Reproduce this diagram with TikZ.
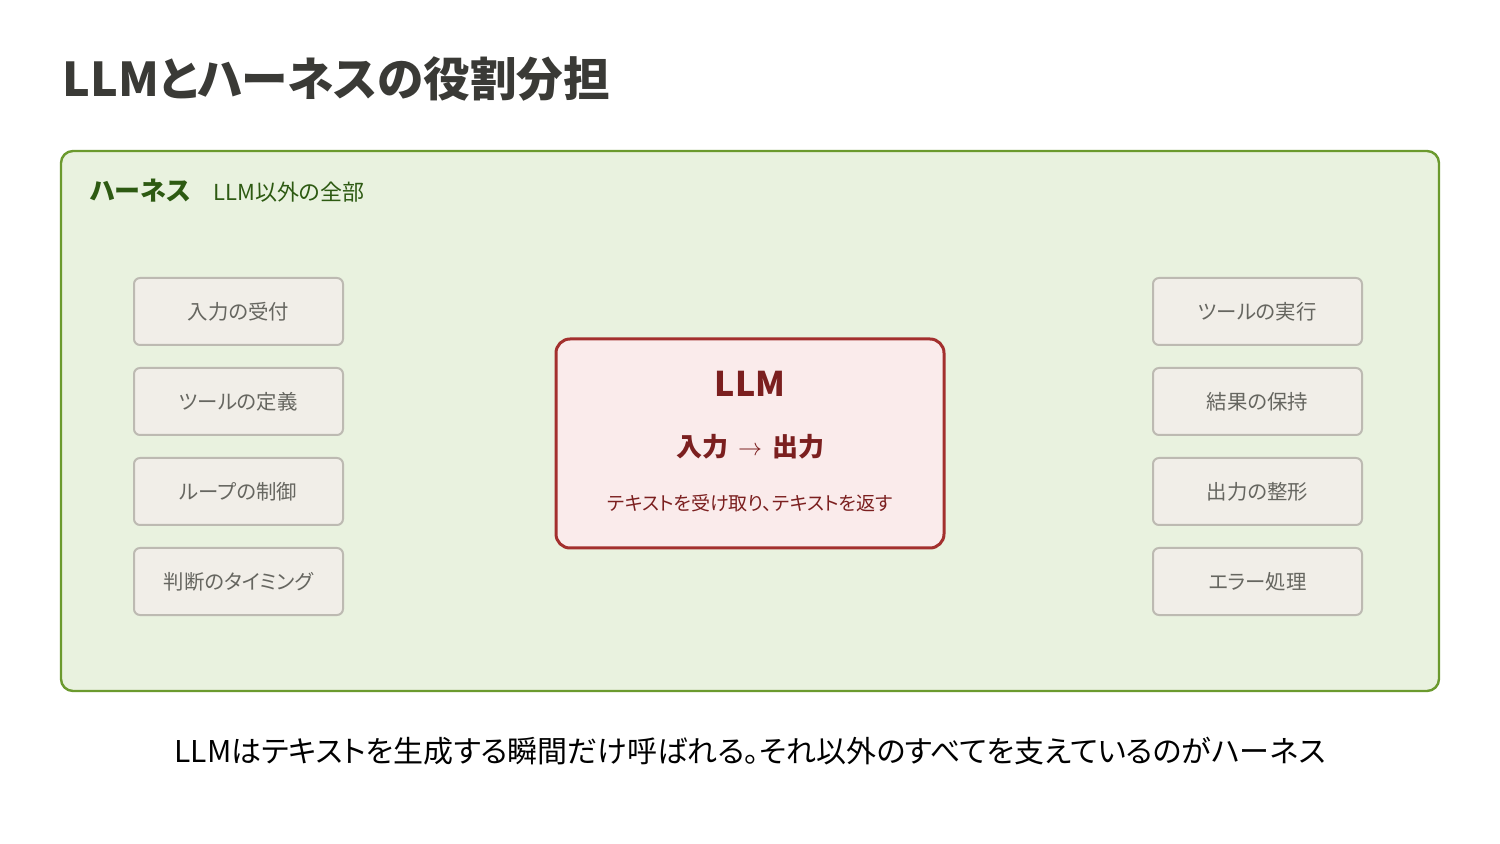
\documentclass[tikz,border=0pt]{standalone}
\usepackage{fontspec}
\setmainfont{Noto Sans CJK JP}[RawFeature=+palt]
\usetikzlibrary{positioning}
\definecolor{titlegray}{HTML}{3A3A36}
\definecolor{harnessline}{HTML}{6B9A2E}
\definecolor{harnessfill}{HTML}{E9F2DF}
\definecolor{harnesstext}{HTML}{2D5A12}
\definecolor{taskfill}{HTML}{F1EEE8}
\definecolor{taskline}{HTML}{BDBAB2}
\definecolor{tasktext}{HTML}{666660}
\definecolor{llmline}{HTML}{A3302E}
\definecolor{llmfill}{HTML}{FAEBEB}
\definecolor{llmtext}{HTML}{7B1F1F}

\tikzset{
  task/.style = {draw = taskline, fill = taskfill, line width = 1pt,
    rounded corners = 3pt, minimum width = 104.5pt, minimum height = 33.5pt,
    text = tasktext, font = \fontsize{10.2}{12}\selectfont, inner sep = 0pt},
  txt/.style = {inner sep = 0pt}
}

\begin{document}
\begin{tikzpicture}[x = 0.5pt, y = -0.5pt]
\useasboundingbox (0, 0) rectangle (1500, 844);

\node[txt, anchor = west, text = titlegray, font = \fontsize{23.3}{28}\selectfont\bfseries] (title) at (62, 79) 
{LLMとハーネスの役割分担};

\draw[draw = harnessline, fill = harnessfill, line width = 1.2pt, rounded corners = 6pt] (61, 151) rectangle (1439, 691);
\node[txt, anchor = west, text = harnesstext, font = \fontsize{13}{16}\selectfont\bfseries] (harness) at (90, 191) 
{ハーネス};
\node[txt, anchor = west, text = harnesstext, font = \fontsize{11}{13}\selectfont] (harnesssub) at (213, 192) 
{LLM以外の全部};

\foreach \t [count = \i] in {
	入力の受付,
	ツールの定義,
	ループの制御,
	判断のタイミング
	}
\node[task] (left\i) at (238.5, 311.5 + 90*\i - 90) {\t};

\foreach \t [count = \i] in {
	ツールの実行,
	結果の保持,
	出力の整形,
	エラー処理
	}
\node[task] (right\i) at (1257.5, 311.5 + 90*\i - 90) {\t};

\draw[draw = llmline, fill = llmfill, line width = 1.5pt, rounded corners = 7pt] (556, 339) rectangle (944, 548);
\node[txt, text = llmtext, font = \fontsize{17}{20}\selectfont\bfseries] (llm) at (750, 384) 
{LLM};
\node[txt, text = llmtext, font = \fontsize{13}{15}\selectfont\bfseries] (io) at (750, 447) 
{入力\hspace{5pt}\raisebox{0.5pt}{$\rightarrow$}\hspace{5pt}出力};
\node[txt, text = llmtext, font = \fontsize{9.5}{12}\selectfont] (llmsub) at (750, 503) 
{テキストを受け取り、テキストを返す};

\node[txt, text = black, font = \fontsize{15}{18}\selectfont] (summary) at (750, 751) 
{LLMはテキストを生成する瞬間だけ呼ばれる。それ以外のすべてを支えているのがハーネス};

\end{tikzpicture}
\end{document}
